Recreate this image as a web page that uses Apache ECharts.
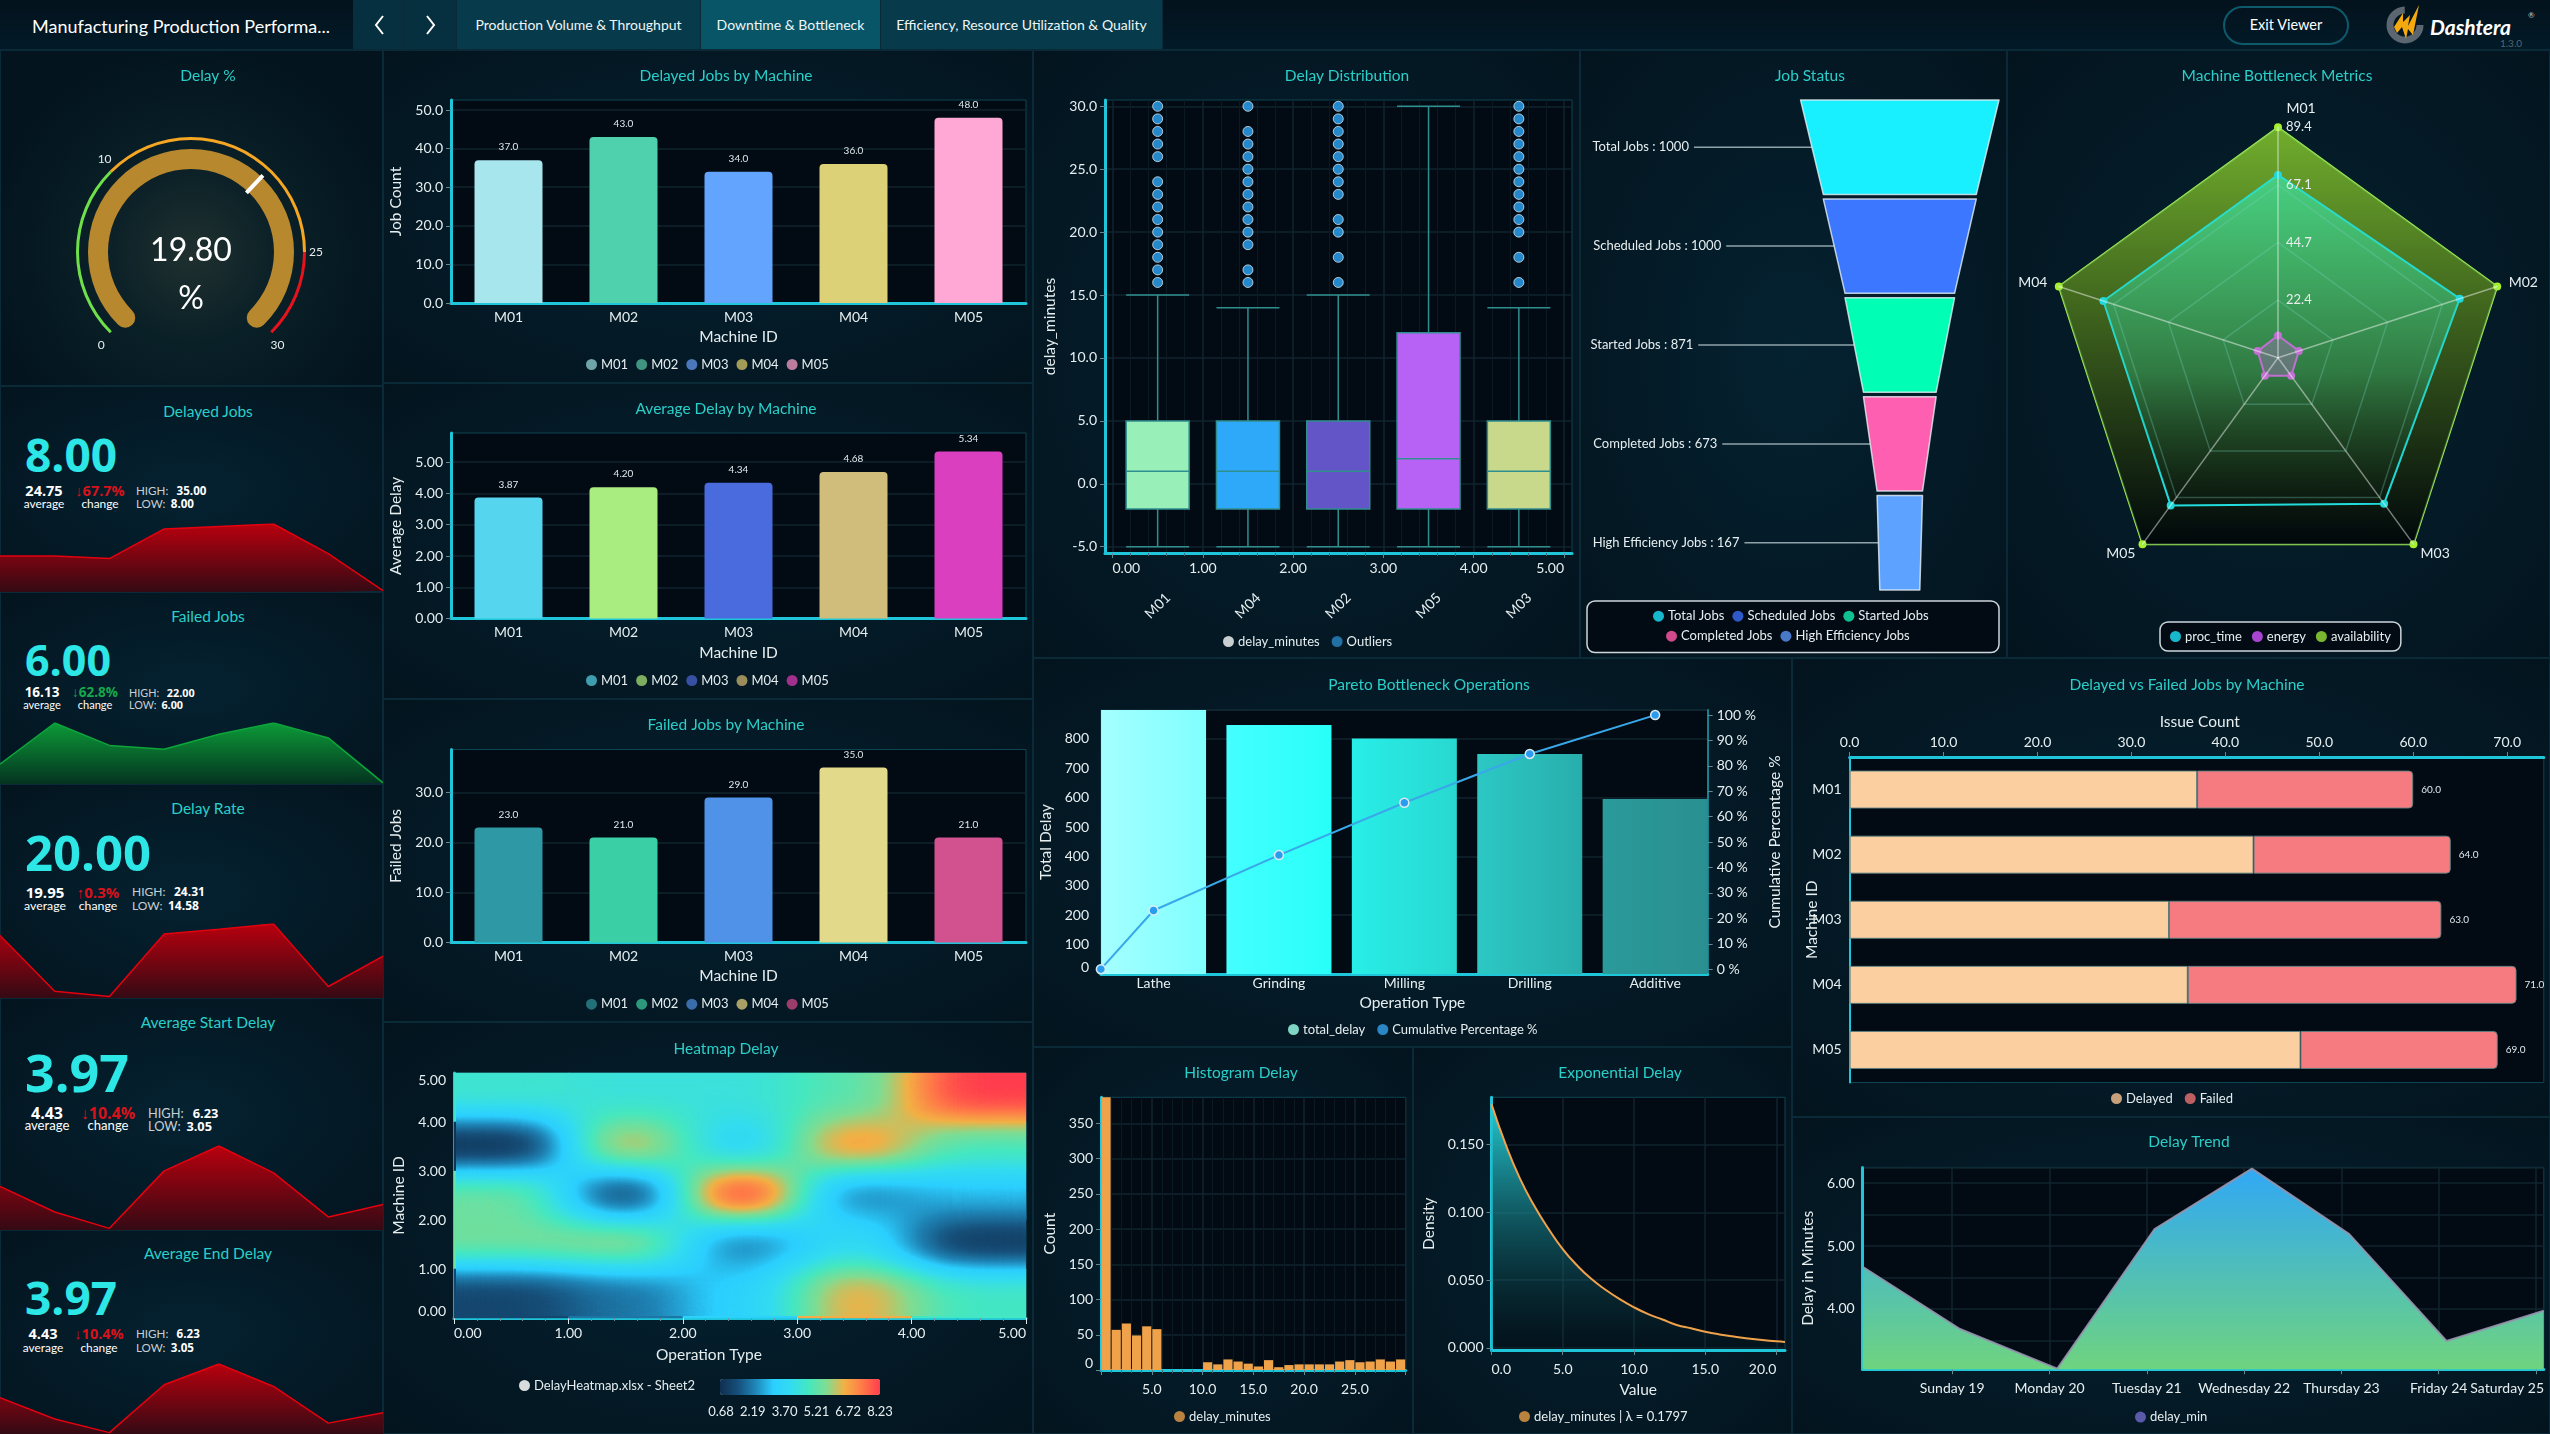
<!DOCTYPE html>
<html>
<head>
<meta charset="utf-8">
<title>Manufacturing Production Performance</title>
<script src="https://cdn.jsdelivr.net/npm/echarts@6/dist/echarts.min.js"></script>
<style>
  html, body { margin: 0; padding: 0; background: #03131d; }
  #page { position: relative; width: 2550px; height: 1434px; overflow: hidden; font-family: Lato, sans-serif; color: #fff; }
  .panel { position: absolute; box-sizing: border-box; border: 1px solid #0a2a38;
    background: radial-gradient(ellipse at center, #052231 0%, #03141e 100%); }
  .chart { position: absolute; }
  .t { position: absolute; white-space: nowrap; line-height: 1; }
  #head { position: absolute; left: 0; top: 0; width: 2550px; height: 50px; background: linear-gradient(#03121c, #021a28); border-bottom: 1px solid #0a2a38; box-sizing: border-box; }
  .tab { position: absolute; top: 0; height: 49px; background: #073a4a; border-right: 1px solid #0a2a38; box-sizing: border-box;
    display: flex; align-items: center; justify-content: center; font-size: 14px; color: #eef6f8; }
</style>
</head>
<body>
<div id="page">
  <div id="head"></div>
</div>
<svg width="0" height="0" style="position:absolute">
  <filter id="heatSmooth" x="-20%" y="-20%" width="140%" height="140%" color-interpolation-filters="sRGB">
    <feGaussianBlur stdDeviation="33 15"/>
    <feComponentTransfer id="heatTable"></feComponentTransfer>
  </filter>
</svg>
<script>
const FONT = 'Lato, sans-serif';
const TXT = '#e6eef0';
const TITLE = '#2bcfc9';
const CYAN = '#1fc6da';

// ---- data ----
const machines = ['M01', 'M02', 'M03', 'M04', 'M05'];
const delayedJobs = [37, 43, 34, 36, 48];
const avgDelay = [3.87, 4.20, 4.34, 4.68, 5.34];
const failedJobs = [23, 21, 29, 35, 21];

const gaugeValue = 19.8;

const kpiTitles = ['Delayed Jobs', 'Failed Jobs', 'Delay Rate', 'Average Start Delay', 'Average End Delay'];
const kpiValues = ['8.00', '6.00', '20.00', '3.97', '3.97'];
const kpiAverages = ['24.75', '16.13', '19.95', '4.43', '4.43'];
const kpiChanges = ['↓67.7%', '↓62.8%', '↑0.3%', '↓10.4%', '↓10.4%'];
const kpiHighs = ['35.00', '22.00', '24.31', '6.23', '6.23'];
const kpiLows = ['8.00', '6.00', '14.58', '3.05', '3.05'];
const sparkDelayed = [22, 22, 21, 33, 34, 35, 23, 8];
const sparkFailed = [11, 22, 16, 15, 19, 22, 18, 6];
const sparkRate = [22.78, 15.30, 14.58, 22.96, 23.60, 24.31, 15.93, 20.00];
const sparkStart = [4.67, 3.68, 3.05, 5.27, 6.23, 5.19, 3.49, 3.97];
const sparkEnd = [4.67, 3.68, 3.05, 5.27, 6.23, 5.19, 3.49, 3.97];

const boxMachines = ['M01', 'M04', 'M02', 'M05', 'M03'];
const boxStats = [
  [-5, -2, 1, 5, 15],
  [-5, -2, 1, 5, 14],
  [-5, -2, 1, 5, 15],
  [-5, -2, 2, 12, 30],
  [-5, -2, 1, 5, 14],
];
const boxOutliers = [
  [16, 17, 18, 19, 20, 21, 22, 23, 24, 26, 27, 28, 29, 30],
  [16, 17, 19, 20, 21, 22, 23, 24, 25, 26, 27, 28, 30],
  [16, 18, 20, 21, 23, 24, 25, 26, 27, 28, 29, 30],
  [],
  [16, 18, 20, 21, 22, 23, 24, 25, 26, 27, 28, 29, 30],
];

const jobStages = ['Total Jobs', 'Scheduled Jobs', 'Started Jobs', 'Completed Jobs', 'High Efficiency Jobs'];
const jobCounts = [1000, 1000, 871, 673, 167];
// the funnel in the picture is not to scale with its counts, these are its drawn proportions
const funnelShape = [198.4, 153, 109.5, 72.7, 45.4];

const radarMetrics = ['proc_time', 'energy', 'availability'];
// radar indicators run counter-clockwise from the top
const radarAxes = ['M01', 'M04', 'M05', 'M03', 'M02'];
const radarMax = 89.4;
const procTime = [70.9, 71.2, 70.8, 70.0, 74.1];
const energy = [8.6, 8.3, 8.6, 8.7, 8.5];
const availability = [89.4, 89.4, 89.4, 89.4, 89.4];

const paretoOps = ['Lathe', 'Grinding', 'Milling', 'Drilling', 'Additive'];
const paretoDelay = [898, 847, 801, 748, 595];
const paretoLineX = [0.08, 0.5, 1.5, 2.5, 3.5, 4.5];
const paretoCum = [0, 23.1, 44.9, 65.5, 84.7, 100];

const histCounts = [387, 57, 66, 49, 62, 58, 0, 0, 0, 0, 11, 8, 15, 12, 9, 5, 14, 4, 7, 8, 8, 8, 8, 12, 14, 11, 12, 15, 12, 15];

const expX = [0, 1, 2, 3, 4, 5, 6, 7, 8, 9, 10, 11, 12, 13, 14, 15, 16, 17, 18, 19, 20, 20.6];
const expDensity = [0.180, 0.150, 0.125, 0.105, 0.088, 0.073, 0.061, 0.051, 0.043, 0.036, 0.030, 0.025, 0.021, 0.017, 0.0145, 0.012, 0.010, 0.0084, 0.0070, 0.0059, 0.0049, 0.0044];

const trendDays = [18.08, 19.08, 20.08, 21.08, 22.08, 23.08, 24.08, 25.08];
const trendDelay = [4.67, 3.68, 3.05, 5.27, 6.23, 5.19, 3.49, 3.97];
const trendTickDays = [19, 20, 21, 22, 23, 24, 25];
const trendTickLabels = ['Sunday 19', 'Monday 20', 'Tuesday 21', 'Wednesday 22', 'Thursday 23', 'Friday 24', 'Saturday 25'];

const heatOps = ['0', '1', '2', '3', '4'];
const heatMachines = ['0', '1', '2', '3', '4'];
// rows from the top of the picture down
const heatRows = [
  [4.6, 4.4, 4.4, 5.2, 8.23],
  [0.8, 6.4, 3.6, 7.0, 5.0],
  [5.4, 1.3, 8.23, 2.4, 3.0],
  [5.5, 5.8, 2.3, 3.9, 1.0],
  [1.3, 2.1, 3.4, 6.6, 4.8],
];
const heatScaleTicks = ['0.68', '2.19', '3.70', '5.21', '6.72', '8.23'];
const heatColors = ['#0f2f50', '#164f7a', '#1f86b8', '#2bcfff', '#33dcf0', '#45e8c0', '#80dc90', '#f3b044', '#ff7a48', '#ff3d4d'];

// ---- page helpers ----
const page = document.getElementById('page');

function addPanel(box, bg) {
  const el = document.createElement('div');
  el.className = 'panel';
  el.style.cssText = `left:${box.x}px;top:${box.y}px;width:${box.w}px;height:${box.h}px;` + (bg ? `background:${bg};` : '');
  page.appendChild(el);
}

function put(text, x, y, css, anchor) {
  const el = document.createElement('div');
  el.className = 't';
  el.textContent = text;
  const tx = anchor === 'left' ? '0' : anchor === 'right' ? '-100%' : '-50%';
  el.style.cssText = `left:${x}px;top:${y}px;transform:translate(${tx},-50%);` + css;
  page.appendChild(el);
  return el;
}

function chart(box, option) {
  const el = document.createElement('div');
  el.className = 'chart';
  el.style.cssText = `left:${box.x}px;top:${box.y}px;width:${box.w}px;height:${box.h}px;`;
  page.appendChild(el);
  const c = echarts.init(el);
  c.setOption(Object.assign({ animation: false, textStyle: { fontFamily: FONT } }, option));
  return c;
}

const rect = (box, l, t, r, b, extra) => Object.assign({
  left: l - box.x, top: t - box.y, width: r - l, height: b - t, outerBoundsMode: 'none',
  show: true, backgroundColor: '#020b14', borderColor: '#0e4553', borderWidth: 1,
}, extra);

const titleAt = (box, text, cx, y) => ({
  text, left: cx - box.x, top: y - box.y + 1, padding: 0, textAlign: 'center', textVerticalAlign: 'middle',
  textStyle: { color: TITLE, fontSize: 15.5, fontWeight: 'normal', fontFamily: FONT },
});

const legendAt = (box, names, icons, left, y, extra) => Object.assign({
  left: left - box.x, top: y - box.y - 7, padding: 0, icon: 'circle', itemWidth: 11, itemHeight: 11, itemGap: 8,
  selectedMode: false, textStyle: { color: TXT, fontSize: 13, padding: [0, 0, 0, -1] },
  data: names.map((name, i) => ({ name, itemStyle: { color: icons[i], borderWidth: 0 } })),
}, extra);

const lineCyan = { show: true, onZero: false, lineStyle: { color: CYAN, width: 3 } };
const gridLine = { show: true, lineStyle: { color: '#12252e', width: 1.5 } };
const faintLine = { show: true, lineStyle: { color: '#0b1a22', width: 1 } };
const tickMark = { show: true, length: 5, lineStyle: { color: '#5f8a94' } };
const labelStyle = { color: TXT, fontSize: 14, margin: 8 };
const nameStyle = { color: TXT, fontSize: 15.5 };

// value axis with explicit ticks, for scales whose ends do not fall on a tick
function tickedAxis(min, max, ticks, digits, extra) {
  return Object.assign({
    type: 'value', min, max,
    axisLine: lineCyan,
    axisTick: Object.assign({}, tickMark, { customValues: ticks }),
    axisLabel: Object.assign({}, labelStyle, { customValues: ticks, formatter: v => v.toFixed(digits) }),
    splitLine: gridLine,
    nameLocation: 'middle', nameTextStyle: nameStyle,
  }, extra);
}

// ---- header ----
put('Manufacturing Production Performa...', 32, 26, 'font-size:18px;color:#fff;', 'left');
const tabs = [
  { x: 353, w: 52, svg: '<svg width="12" height="22"><polyline points="10,2 3,11 10,20" fill="none" stroke="#fff" stroke-width="2"/></svg>', bg: '#06303f' },
  { x: 405, w: 52, svg: '<svg width="12" height="22"><polyline points="2,2 9,11 2,20" fill="none" stroke="#fff" stroke-width="2"/></svg>', bg: '#06303f' },
  { x: 457, w: 244, text: 'Production Volume & Throughput' },
  { x: 701, w: 180, text: 'Downtime & Bottleneck', bg: '#075566' },
  { x: 881, w: 282, text: 'Efficiency, Resource Utilization & Quality' },
];
tabs.forEach(t => {
  const el = document.createElement('div');
  el.className = 'tab';
  if (t.svg) el.innerHTML = t.svg;
  else el.textContent = t.text;
  el.style.cssText = `left:${t.x}px;width:${t.w}px;` + (t.bg ? `background:${t.bg};` : '');
  page.appendChild(el);
});
const exitBtn = put('Exit Viewer', 2286, 25, 'font-size:14.5px;color:#fff;');
const exitBox = document.createElement('div');
exitBox.style.cssText = 'position:absolute;left:2223px;top:6px;width:126px;height:39px;box-sizing:border-box;border:2px solid #0e5a6a;border-radius:20px;';
page.appendChild(exitBox);
const logo = document.createElementNS('http://www.w3.org/2000/svg', 'svg');
logo.setAttribute('width', '44');
logo.setAttribute('height', '44');
logo.style.cssText = 'position:absolute;left:2385px;top:3px;';
logo.innerHTML = '<circle cx="20" cy="22" r="15" fill="none" stroke="#5b6670" stroke-width="7" stroke-dasharray="70 30"/>' +
  '<polygon points="9,24 18,10 18,19 25,12 23,23 34,2 28,32 23,26 21,36 17,24 12,30" fill="#f5a90f"/>';
page.appendChild(logo);
put('Dashtera', 2430, 26, 'font-size:21px;font-weight:700;font-style:italic;color:#fff;', 'left');
put('®', 2528, 15, 'font-size:8px;color:#ccc;', 'left');
put('1.3.0', 2511, 43, 'font-size:10px;color:#54666e;');

// ---- gauge ----
const gaugeBox = { x: 0, y: 50, w: 383, h: 336 };
addPanel(gaugeBox, 'radial-gradient(circle at 191px 202px, #20302f 0%, #0a2027 32%, #03141e 75%)');
chart(gaugeBox, {
  title: titleAt(gaugeBox, 'Delay %', 208, 75),
  series: [
    {
      type: 'gauge', center: [191, 202], radius: 115, startAngle: 225, endAngle: -45, min: 0, max: 30, splitNumber: 6,
      axisLine: { lineStyle: { width: 3, color: [[10 / 30, '#6fe04a'], [25 / 30, '#f5a623'], [1, '#e8121c']] } },
      axisTick: { show: false }, splitLine: { show: false }, pointer: { show: false },
      axisLabel: { distance: -37, color: TXT, fontSize: 12, formatter: v => ([0, 10, 25, 30].includes(v) ? String(v) : '') },
      title: { show: false }, detail: { show: false },
      data: [{ value: gaugeValue }],
    },
    {
      type: 'gauge', center: [191, 202], radius: 103, startAngle: 225, endAngle: -45, min: 0, max: 30,
      axisLine: { roundCap: true, lineStyle: { width: 20, color: [[1, '#b8882e']] } },
      axisTick: { show: false }, splitLine: { show: false }, axisLabel: { show: false },
      pointer: { show: true, icon: 'rect', length: 24, width: 4, offsetCenter: [0, -81], itemStyle: { color: '#fff' } },
      title: { show: false },
      detail: {
        formatter: v => v.toFixed(2) + '\n%', color: '#fff', fontSize: 32, lineHeight: 48,
        fontWeight: 'normal', offsetCenter: [0, 23], fontFamily: FONT,
      },
      data: [{ value: gaugeValue }],
    },
  ],
});

// ---- kpi cards ----
const kpiBoxes = [
  { x: 0, y: 386, w: 383, h: 206 },
  { x: 0, y: 592, w: 383, h: 192 },
  { x: 0, y: 784, w: 383, h: 214 },
  { x: 0, y: 998, w: 383, h: 232 },
  { x: 0, y: 1230, w: 383, h: 204 },
];
const kpiLayout = [
  { titleY: 412, numY: 454, num: 46, sub: 14.5, avgX: 44, chgX: 100, hiX: 136, r1: 491, r2: 504, sparkTop: 524 },
  { titleY: 617, numY: 659, num: 43, sub: 13.5, avgX: 42, chgX: 95, hiX: 129, r1: 692.5, r2: 704.5, sparkTop: 723 },
  { titleY: 809, numY: 852, num: 49, sub: 15, avgX: 45, chgX: 98, hiX: 132, r1: 892, r2: 905.5, sparkTop: 924 },
  { titleY: 1023, numY: 1072, num: 52, sub: 16, avgX: 47, chgX: 108, hiX: 148, r1: 1112.5, r2: 1126, sparkTop: 1146 },
  { titleY: 1254, numY: 1297, num: 46, sub: 14.5, avgX: 43, chgX: 99, hiX: 136, r1: 1334, r2: 1348, sparkTop: 1364 },
];
const kpiChangeColors = ['#d8121a', '#16a84a', '#d8121a', '#d8121a', '#d8121a'];
const sparkSeries = [sparkDelayed, sparkFailed, sparkRate, sparkStart, sparkEnd];
const sparkLows = [8, 6, 14.58, 3.05, 3.05];
const sparkHighs = [35, 22, 24.31, 6.23, 6.23];

kpiBoxes.forEach((box, i) => {
  const lay = kpiLayout[i];
  addPanel(box);
  const green = i === 1;
  const sparkBox = { x: box.x, y: lay.sparkTop - 3, w: box.w, h: box.y + box.h - lay.sparkTop + 3 };
  chart(sparkBox, {
    grid: { left: 0, right: 0, top: 3, bottom: 0, outerBoundsMode: 'none' },
    xAxis: { type: 'category', show: false, boundaryGap: false, data: sparkSeries[i].map((_, k) => k) },
    yAxis: { type: 'value', show: false, min: sparkLows[i] - (sparkHighs[i] - sparkLows[i]) * 0.02, max: sparkHighs[i] },
    series: [{
      type: 'line', data: sparkSeries[i], symbol: 'none',
      lineStyle: { color: green ? '#0da53b' : '#e4000f', width: 1.5 },
      areaStyle: {
        opacity: 1,
        color: new echarts.graphic.LinearGradient(0, 0, 0, 1, [
          { offset: 0, color: green ? '#0c9a38' : '#b8000e' },
          { offset: 1, color: green ? '#043320' : '#340a14' },
        ]),
      },
    }],
  });
  const s = lay.sub;
  put(kpiTitles[i], 208, lay.titleY, `font-size:15.5px;color:${TITLE};`);
  put(kpiValues[i], 25, lay.numY, `font-size:${lay.num}px;font-weight:700;color:#2de6e6;font-family:"Open Sans";`, 'left');
  put(kpiAverages[i], lay.avgX, lay.r1, `font-size:${s}px;font-weight:700;color:#fff;font-family:"Open Sans";`);
  put('average', lay.avgX, lay.r2, `font-size:${s * 0.82}px;color:#fff;`);
  put(kpiChanges[i], lay.chgX, lay.r1, `font-size:${s}px;font-weight:700;color:${kpiChangeColors[i]};font-family:"Open Sans";`);
  put('change', lay.chgX, lay.r2, `font-size:${s * 0.82}px;color:#fff;`);
  put('HIGH:', lay.hiX, lay.r1, `font-size:${s * 0.8}px;color:#c8d0d4;`, 'left');
  put(kpiHighs[i], lay.hiX + s * 2.8, lay.r1, `font-size:${s * 0.8}px;font-weight:700;color:#fff;font-family:"Open Sans";`, 'left');
  put('LOW:', lay.hiX, lay.r2, `font-size:${s * 0.8}px;color:#c8d0d4;`, 'left');
  put(kpiLows[i], lay.hiX + s * 2.4, lay.r2, `font-size:${s * 0.8}px;font-weight:700;color:#fff;font-family:"Open Sans";`, 'left');
});

// ---- machine bar panels ----
function machineBars(cfg) {
  const { box, title, values, colors, icons, maxVal, ticks, digits, yName, g, legendLeft, legendY } = cfg;
  addPanel(box);
  chart(box, {
    title: titleAt(box, title, 726, cfg.titleY),
    legend: legendAt(box, machines, icons, legendLeft, legendY),
    grid: rect(box, g[0], g[1], g[2], g[3]),
    xAxis: {
      type: 'category', data: machines, axisLine: lineCyan, axisTick: { show: false },
      axisLabel: Object.assign({}, labelStyle, { margin: 7 }),
      name: 'Machine ID', nameLocation: 'middle', nameGap: 26, nameTextStyle: nameStyle,
    },
    yAxis: tickedAxis(0, maxVal, ticks, digits, { name: yName, nameGap: 41 }),
    series: machines.map((m, i) => ({
      type: 'bar', name: m, stack: 'm', barWidth: 68,
      data: values.map((v, j) => (j === i ? v : '-')),
      itemStyle: { color: colors[i], borderRadius: [4, 4, 0, 0] },
      label: {
        show: true, position: 'top', distance: 8, fontSize: 10, color: '#dfe8ea',
        formatter: p => p.value.toFixed(digits === 2 ? 2 : 1),
      },
    })),
  });
}

machineBars({
  box: { x: 383, y: 50, w: 650, h: 333 }, title: 'Delayed Jobs by Machine', titleY: 75,
  values: delayedJobs, colors: ['#a8e6ed', '#4fd1ae', '#63a4ff', '#dcd177', '#ffa8d5'],
  icons: ['#6fa5aa', '#3f957f', '#4a78bb', '#a39b58', '#bb7c9d'],
  maxVal: 52.6, ticks: [0, 10, 20, 30, 40, 50], digits: 1, yName: 'Job Count',
  g: [451, 100, 1026, 303], legendLeft: 586, legendY: 365,
});
machineBars({
  box: { x: 383, y: 383, w: 650, h: 316 }, title: 'Average Delay by Machine', titleY: 408,
  values: avgDelay, colors: ['#55d6ee', '#a9ec80', '#4a6bdd', '#d1bd7b', '#d93fbf'],
  icons: ['#3f9db0', '#7dae5f', '#3750a3', '#9b8c5b', '#a02f8d'],
  maxVal: 5.93, ticks: [0, 1, 2, 3, 4, 5], digits: 2, yName: 'Average Delay',
  g: [451, 433, 1026, 618.6], legendLeft: 586, legendY: 681,
});
machineBars({
  box: { x: 383, y: 699, w: 650, h: 323 }, title: 'Failed Jobs by Machine', titleY: 724,
  values: failedJobs, colors: ['#2e98a4', '#3bcfa6', '#4f92e8', '#e3d98a', '#d2528f'],
  icons: ['#227179', '#2c997b', '#3a6cac', '#a8a066', '#9b3d6a'],
  maxVal: 38.6, ticks: [0, 10, 20, 30], digits: 1, yName: 'Failed Jobs',
  g: [451, 749.5, 1026, 942.4], legendLeft: 586, legendY: 1004.7,
});

// ---- heatmap ----
const heatBox = { x: 383, y: 1022, w: 650, h: 412 };
addPanel(heatBox);
const heatData = heatRows.flatMap((row, r) => row.map((v, c) => [c, heatRows.length - 1 - r, v]));
const heatMin = Number(heatScaleTicks[0]);
const heatMax = Number(heatScaleTicks[heatScaleTicks.length - 1]);
chart(heatBox, {
  title: titleAt(heatBox, 'Heatmap Delay', 726, 1048),
  legend: legendAt(heatBox, ['DelayHeatmap.xlsx - Sheet2'], ['#d8dcdc'], 519, 1386),
  grid: rect(heatBox, 454, 1073, 1026, 1318),
  visualMap: {
    type: 'continuous', min: heatMin, max: heatMax, orient: 'horizontal', seriesIndex: 0, calculable: false,
    left: 720 - heatBox.x, top: 1379 - heatBox.y, itemWidth: 16, itemHeight: 160, padding: 0, text: null,
    inRange: { color: heatColors }, textStyle: { color: 'transparent' },
  },
  xAxis: [
    { type: 'category', show: false, position: 'top', data: heatOps },
    {
      type: 'value', position: 'bottom', min: 0, max: 5, interval: 1, axisLine: lineCyan, splitLine: { show: false },
      axisTick: Object.assign({}, tickMark, { length: 6, lineStyle: { color: '#dfe8ea' } }),
      minorTick: { show: true, splitNumber: 5, length: 3, lineStyle: { color: '#6f8f98' } },
      axisLabel: Object.assign({}, labelStyle, { formatter: v => v.toFixed(2), alignMinLabel: 'left', alignMaxLabel: 'right' }),
      name: 'Operation Type', nameLocation: 'middle', nameGap: 29,
      nameTextStyle: Object.assign({ padding: [0, 62, 0, 0] }, nameStyle),
    },
  ],
  yAxis: [
    { type: 'category', show: false, position: 'right', data: heatMachines },
    {
      type: 'value', position: 'left', min: 0, max: 5, interval: 1, axisLine: lineCyan, axisTick: { show: false }, splitLine: { show: false },
      axisLabel: Object.assign({}, labelStyle, { formatter: v => v.toFixed(2), verticalAlignMinLabel: 'bottom', verticalAlignMaxLabel: 'top' }),
      name: 'Machine ID', nameLocation: 'middle', nameGap: 42, nameTextStyle: nameStyle,
    },
  ],
  series: [{ type: 'heatmap', name: 'DelayHeatmap.xlsx - Sheet2', xAxisIndex: 0, yAxisIndex: 0, data: heatData }],
  graphic: heatScaleTicks.map((t, i) => ({
    type: 'text', x: 721 + i * 31.8 - heatBox.x, y: 1412 - heatBox.y,
    style: { text: t, fill: TXT, font: '13px ' + FONT, align: 'center', verticalAlign: 'middle' },
  })),
});

// same cells once more, as grey levels: blurred and run through the colour ramp by the svg filter
const channels = { feFuncR: 1, feFuncG: 3, feFuncB: 5 };
const heatTable = document.getElementById('heatTable');
Object.keys(channels).forEach(tag => {
  const fn = document.createElementNS('http://www.w3.org/2000/svg', tag);
  fn.setAttribute('type', 'table');
  fn.setAttribute('tableValues', heatColors.map(c => (parseInt(c.substr(channels[tag], 2), 16) / 255).toFixed(3)).join(' '));
  heatTable.appendChild(fn);
});
const alphaFn = document.createElementNS('http://www.w3.org/2000/svg', 'feFuncA');
alphaFn.setAttribute('type', 'linear');
alphaFn.setAttribute('slope', '100');
heatTable.appendChild(alphaFn);
const heatClip = document.createElement('div');
heatClip.style.cssText = 'position:absolute;left:456px;top:1073px;width:570px;height:243px;overflow:hidden;';
page.appendChild(heatClip);
const heatInner = document.createElement('div');
heatInner.style.cssText = 'position:absolute;left:0;top:0;width:570px;height:243px;filter:url(#heatSmooth);';
heatClip.appendChild(heatInner);
const heatSmooth = echarts.init(heatInner);
heatSmooth.setOption({
  animation: false,
  grid: { left: 0, right: 0, top: 0, bottom: 0, outerBoundsMode: 'none' },
  xAxis: { type: 'category', show: false, data: heatOps },
  yAxis: { type: 'category', show: false, data: heatMachines },
  visualMap: { show: false, min: heatMin, max: heatMax, inRange: { color: ['#000000', '#ffffff'] } },
  series: [{ type: 'heatmap', data: heatData }],
});

// ---- box plot ----
const boxBox = { x: 1033, y: 50, w: 547, h: 608 };
addPanel(boxBox);
const boxColors = ['#98f0b8', '#2ea8f8', '#6355c8', '#b862f5', '#c8d98c'];
const delayTicks = [-5, 0, 5, 10, 15, 20, 25, 30];
const boxInner = { left: 1112.5 - boxBox.x, top: 100 - boxBox.y, width: 451.5, height: 453, outerBoundsMode: 'none' };
chart(boxBox, {
  title: titleAt(boxBox, 'Delay Distribution', 1347, 75),
  legend: legendAt(boxBox, ['delay_minutes', 'Outliers'], ['#c9ced1', '#2a86c4'], 1223, 642, { itemGap: 12 }),
  grid: [rect(boxBox, 1105, 100, 1572, 553), Object.assign({}, boxInner)],
  xAxis: [
    { type: 'value', gridIndex: 0, position: 'bottom', min: 0, max: 1, axisLine: lineCyan, axisTick: { show: false }, axisLabel: { show: false }, splitLine: { show: false } },
    {
      type: 'category', gridIndex: 1, position: 'bottom', data: boxMachines, axisLine: { show: false },
      axisTick: Object.assign({}, tickMark, { alignWithLabel: true }),
      axisLabel: Object.assign({}, labelStyle, { rotate: 45, margin: 53, align: 'center', verticalAlign: 'middle' }),
    },
    {
      type: 'value', gridIndex: 1, position: 'bottom', min: 0, max: 5, interval: 1, axisLine: { show: false },
      axisTick: tickMark, minorTick: { show: true, splitNumber: 5, length: 3, lineStyle: { color: '#3f6a74' } },
      axisLabel: Object.assign({}, labelStyle, { formatter: v => v.toFixed(2), alignMinLabel: 'left', alignMaxLabel: 'right' }),
      splitLine: gridLine, minorSplitLine: faintLine,
    },
  ],
  yAxis: [
    tickedAxis(-5.5, 30.5, delayTicks, 1, { gridIndex: 0, position: 'left', name: 'delay_minutes', nameGap: 42 }),
    { type: 'value', gridIndex: 1, min: -5.5, max: 30.5, show: false, splitLine: { show: false } },
  ],
  series: [
    {
      type: 'boxplot', name: 'delay_minutes', xAxisIndex: 1, yAxisIndex: 1, boxWidth: [63, 63],
      data: boxStats.map((value, i) => ({ value, itemStyle: { color: boxColors[i], borderColor: '#2f8f8f', borderWidth: 1.5 } })),
    },
    {
      type: 'scatter', name: 'Outliers', xAxisIndex: 1, yAxisIndex: 1, symbolSize: 10,
      itemStyle: { color: '#2ea8f8', borderColor: '#d6e6ee', borderWidth: 1 },
      data: boxOutliers.flatMap((list, i) => list.map(v => [i, v])),
    },
  ],
});

// ---- job status funnel ----
const funnelBox = { x: 1580, y: 50, w: 427, h: 608 };
addPanel(funnelBox);
const funnelColors = ['#18f0ff', '#3b78ff', '#00ffb4', '#ff5fb0', '#5ea2ff'];
const funnelIcons = ['#18b8cc', '#2f58c8', '#10c090', '#d04a8c', '#4a78c8'];
const funnelLineLengths = [118, 108, 156, 148, 134];
chart(funnelBox, {
  title: titleAt(funnelBox, 'Job Status', 1810, 75),
  legend: [
    legendAt(funnelBox, jobStages.slice(0, 3), funnelIcons.slice(0, 3), 1653, 616.7),
    legendAt(funnelBox, jobStages.slice(3), funnelIcons.slice(3), 1666, 636.7),
  ],
  graphic: [{
    type: 'rect', x: 1587 - funnelBox.x, y: 601 - funnelBox.y, shape: { width: 412, height: 51.6, r: 8 },
    style: { fill: '#020b14', stroke: '#cdd6da', lineWidth: 1.5 },
  }],
  series: [{
    type: 'funnel', left: 1800.6 - funnelBox.x, top: 100 - funnelBox.y, width: 198.4, height: 490,
    sort: 'none', gap: 4.5, min: 40, max: 198.4, minSize: 40, maxSize: 198.4,
    label: {
      position: 'left', color: TXT, fontSize: 13,
      formatter: p => `${p.name} : ${jobCounts[p.dataIndex]}`,
    },
    labelLine: { show: true, lineStyle: { color: '#8fa3aa', width: 1.5 } },
    itemStyle: { borderColor: 'rgba(230,240,245,0.8)', borderWidth: 1.5 },
    data: jobStages.map((name, i) => ({
      name, value: funnelShape[i],
      itemStyle: { color: funnelColors[i] },
      labelLine: { length: funnelLineLengths[i] },
    })),
  }],
});

// ---- radar ----
const radarBox = { x: 2007, y: 50, w: 543, h: 608 };
addPanel(radarBox);
chart(radarBox, {
  title: titleAt(radarBox, 'Machine Bottleneck Metrics', 2277, 75),
  legend: legendAt(radarBox, radarMetrics, ['#18b8cc', '#a845d0', '#7ab830'], 2160, 637, {
    padding: [8, 10, 8, 10], top: 622 - radarBox.y, borderColor: '#cdd6da', borderWidth: 1.5, borderRadius: 8,
    backgroundColor: '#020b14', itemGap: 10,
  }),
  radar: {
    center: [2278 - radarBox.x, 357.7 - radarBox.y], radius: 230.5, startAngle: 90, splitNumber: 4, shape: 'polygon', z: 3,
    indicator: radarAxes.map((name, i) => ({
      name, min: 0, max: radarMax,
      axisLabel: i === 0 ? {
        show: true, color: TXT, fontSize: 13, margin: -8, align: 'left',
        formatter: v => (v ? (Math.round(v * 10 + 1e-6) / 10).toFixed(1) : ''),
      } : undefined,
    })),
    axisName: {
      color: TXT, fontSize: 14,
      rich: { top: { color: TXT, fontSize: 14, padding: [0, 0, 0, 46] } },
      formatter: n => (n === radarAxes[0] ? `{top|${n}}` : n),
    },
    nameGap: 12,
    axisLine: { lineStyle: { color: 'rgba(255,255,255,0.45)', width: 1.5 } },
    splitLine: { lineStyle: { color: 'rgba(120,210,190,0.3)', width: 1.5 } },
    splitArea: { show: false },
    axisLabel: { show: false },
  },
  series: [{
    type: 'radar', symbol: 'circle', symbolSize: 8, z: 1,
    data: [
      {
        name: 'availability', value: availability,
        itemStyle: { color: '#a8f02a' }, lineStyle: { color: '#a8f02a', width: 2 },
        areaStyle: { opacity: 1, color: new echarts.graphic.LinearGradient(0, 0, 0, 1, [
          { offset: 0, color: 'rgba(125,190,45,0.9)' }, { offset: 1, color: 'rgba(0,6,8,0.9)' },
        ]) },
      },
      {
        name: 'proc_time', value: procTime,
        itemStyle: { color: '#20d8d8' }, lineStyle: { color: '#22dcdc', width: 2 },
        areaStyle: { opacity: 1, color: new echarts.graphic.LinearGradient(0, 0, 0, 1, [
          { offset: 0, color: 'rgba(60,225,160,0.75)' }, { offset: 0.6, color: 'rgba(50,190,130,0.4)' }, { offset: 1, color: 'rgba(10,60,50,0)' },
        ]) },
      },
      {
        name: 'energy', value: energy,
        itemStyle: { color: '#c070d0' }, lineStyle: { color: '#c070d0', width: 2 },
        areaStyle: { color: 'rgba(190,110,210,0.35)', opacity: 1 },
      },
    ],
  }],
});

// ---- pareto ----
const paretoBox = { x: 1033, y: 658, w: 759, h: 389 };
addPanel(paretoBox);
const paretoGradients = [
  ['#a4ffff', '#80ffff'], ['#44ffff', '#28fff8'], ['#28eee8', '#28d8d0'], ['#2cc8c4', '#28aeac'], ['#2a9a9a', '#2a8f90'],
];
const delayAxisTicks = [0, 100, 200, 300, 400, 500, 600, 700, 800];
const pctTicks = [0, 10, 20, 30, 40, 50, 60, 70, 80, 90, 100];
const paretoBars = { left: 1090.85 - paretoBox.x, top: 710 - paretoBox.y, width: 627, height: 264, outerBoundsMode: 'none' };
chart(paretoBox, {
  title: titleAt(paretoBox, 'Pareto Bottleneck Operations', 1429, 684),
  legend: legendAt(paretoBox, ['total_delay', 'Cumulative Percentage %'], ['#7fd4c4', '#2a86c4'], 1288, 1030, { itemGap: 12 }),
  grid: [rect(paretoBox, 1101, 710, 1707.7, 974), Object.assign({}, paretoBars)],
  xAxis: [
    { type: 'value', gridIndex: 0, position: 'bottom', min: 0, max: 1, axisLine: lineCyan, axisTick: { show: false }, axisLabel: { show: false }, splitLine: { show: false } },
    {
      type: 'category', gridIndex: 1, position: 'bottom', data: paretoOps, axisLine: { show: false }, axisTick: { show: false },
      axisLabel: Object.assign({}, labelStyle, { margin: 2 }),
      name: 'Operation Type', nameLocation: 'middle', nameGap: 19,
      nameTextStyle: Object.assign({ padding: [0, 0, 0, 16] }, nameStyle),
    },
    { type: 'value', gridIndex: 1, position: 'top', min: 0, max: 5, show: false },
  ],
  yAxis: [
    tickedAxis(0, 898, delayAxisTicks, 0, {
      gridIndex: 0, position: 'left', name: 'Total Delay', nameGap: 39,
      axisLine: { show: false }, axisTick: { show: false },
      axisLabel: Object.assign({}, labelStyle, { customValues: delayAxisTicks, margin: 12, verticalAlignMinLabel: 'bottom', formatter: v => String(v) }),
    }),
    tickedAxis(-1.9, 102, pctTicks, 0, {
      gridIndex: 0, position: 'right', name: 'Cumulative Percentage %', nameGap: 55, splitLine: { show: false },
      axisLine: { show: true, onZero: false, lineStyle: { color: '#17808e', width: 2 } },
      axisLabel: Object.assign({}, labelStyle, { customValues: pctTicks, margin: 9, formatter: v => v + ' %' }),
    }),
    { type: 'value', gridIndex: 1, position: 'left', min: 0, max: 898, show: false, splitLine: { show: false } },
    { type: 'value', gridIndex: 1, position: 'right', min: -1.9, max: 102, show: false, splitLine: { show: false } },
  ],
  series: [
    {
      type: 'bar', name: 'total_delay', xAxisIndex: 1, yAxisIndex: 2, barWidth: 105,
      data: paretoDelay.map((value, i) => ({
        value,
        itemStyle: { color: new echarts.graphic.LinearGradient(0, 0, 1, 0, [
          { offset: 0, color: paretoGradients[i][0] }, { offset: 1, color: paretoGradients[i][1] },
        ]) },
      })),
    },
    {
      type: 'line', name: 'Cumulative Percentage %', xAxisIndex: 2, yAxisIndex: 3, clip: false,
      data: paretoLineX.map((x, i) => [x, paretoCum[i]]),
      symbol: 'circle', symbolSize: 9,
      lineStyle: { color: '#38a8e8', width: 2 },
      itemStyle: { color: '#2a9cf0', borderColor: '#dbeaf2', borderWidth: 1.5 },
    },
  ],
});

// ---- histogram ----
const histBox = { x: 1033, y: 1047, w: 380, h: 387 };
addPanel(histBox);
const countTicks = [0, 50, 100, 150, 200, 250, 300, 350];
chart(histBox, {
  title: titleAt(histBox, 'Histogram Delay', 1241, 1072),
  legend: legendAt(histBox, ['delay_minutes'], ['#b9823f'], 1174, 1417),
  grid: rect(histBox, 1101, 1097.3, 1405.7, 1370),
  xAxis: [
    { type: 'category', show: false, position: 'top', data: histCounts.map((_, i) => i) },
    {
      type: 'value', position: 'bottom', min: 0, max: 30, interval: 5, axisLine: lineCyan, axisTick: tickMark,
      minorTick: { show: true, splitNumber: 5, length: 3, lineStyle: { color: '#3f6a74' } },
      axisLabel: Object.assign({}, labelStyle, { margin: 12, showMinLabel: false, showMaxLabel: false, formatter: v => v.toFixed(1) }),
      splitLine: gridLine, minorSplitLine: faintLine,
    },
  ],
  yAxis: tickedAxis(0, 387, countTicks, 0, {
    name: 'Count', nameGap: 39,
    axisLabel: Object.assign({}, labelStyle, { customValues: countTicks, formatter: v => String(v), verticalAlignMinLabel: 'bottom' }),
  }),
  series: [{
    type: 'bar', name: 'delay_minutes', xAxisIndex: 0, barWidth: '90%', data: histCounts,
    itemStyle: { color: '#f0a24a' },
  }],
});

// ---- exponential ----
const expBox = { x: 1413, y: 1047, w: 379, h: 387 };
addPanel(expBox);
const densityTicks = [0, 0.05, 0.1, 0.15];
chart(expBox, {
  title: titleAt(expBox, 'Exponential Delay', 1620, 1072),
  legend: legendAt(expBox, ['delay_minutes | λ = 0.1797'], ['#b9823f'], 1519, 1417),
  grid: rect(expBox, 1491.5, 1097.3, 1785, 1350),
  xAxis: {
    type: 'value', min: 0, max: 20.6,
    axisLine: lineCyan,
    axisTick: Object.assign({}, tickMark, { customValues: [0, 5, 10, 15, 20] }),
    axisLabel: Object.assign({}, labelStyle, { customValues: [0, 5, 10, 15, 20], margin: 12, formatter: v => v.toFixed(1), alignMinLabel: 'left', alignMaxLabel: 'right' }),
    splitLine: gridLine, name: 'Value', nameLocation: 'middle', nameGap: 32, nameTextStyle: nameStyle,
  },
  yAxis: tickedAxis(-0.0015, 0.185, densityTicks, 3, { name: 'Density', nameGap: 47 }),
  series: [{
    type: 'line', name: 'delay_minutes | λ = 0.1797', smooth: true, symbol: 'none',
    data: expX.map((x, i) => [x, expDensity[i]]),
    lineStyle: { color: '#f0a24a', width: 2 },
    areaStyle: { opacity: 1, color: new echarts.graphic.LinearGradient(0, 0, 0, 1, [
      { offset: 0, color: '#25ccd4' }, { offset: 1, color: 'rgba(10,60,70,0.15)' },
    ]) },
  }],
});

// ---- delayed vs failed ----
const stackBox = { x: 1792, y: 658, w: 758, h: 459 };
addPanel(stackBox);
const issueTicks = [0, 10, 20, 30, 40, 50, 60, 70];
const barEdge = 'rgba(90,130,130,0.9)';
chart(stackBox, {
  title: titleAt(stackBox, 'Delayed vs Failed Jobs by Machine', 2187, 683.5),
  legend: legendAt(stackBox, ['Delayed', 'Failed'], ['#c9a07c', '#bd5f63'], 2111, 1099, { itemGap: 12 }),
  grid: rect(stackBox, 1849.6, 757, 2543.8, 1082.5),
  xAxis: tickedAxis(0, 73.9, issueTicks, 1, {
    position: 'top', splitLine: { show: false }, name: 'Issue Count', nameGap: 27, nameTextStyle: Object.assign({ padding: [0, 0, 0, 6] }, nameStyle),
  }),
  yAxis: {
    type: 'category', inverse: true, data: machines, axisTick: { show: false },
    axisLine: { show: true, onZero: false, lineStyle: { color: CYAN, width: 2 } },
    axisLabel: labelStyle, name: 'Machine ID', nameLocation: 'middle', nameGap: 30, nameMoveOverlap: false, nameTextStyle: nameStyle,
  },
  series: [
    {
      type: 'bar', name: 'Delayed', stack: 'j', barWidth: 38, data: delayedJobs,
      itemStyle: { color: '#fbcfa0', borderColor: barEdge, borderWidth: 1 },
    },
    {
      type: 'bar', name: 'Failed', stack: 'j', barWidth: 38, data: failedJobs,
      itemStyle: { color: '#f57b80', borderColor: barEdge, borderWidth: 1, borderRadius: [0, 4, 4, 0] },
      label: {
        show: true, position: 'right', distance: 8, fontSize: 10, color: '#dfe8ea',
        formatter: p => (delayedJobs[p.dataIndex] + failedJobs[p.dataIndex]).toFixed(1),
      },
    },
  ],
});

// ---- delay trend ----
const trendBox = { x: 1792, y: 1117, w: 758, h: 317 };
addPanel(trendBox);
const trendLastDay = trendTickDays.slice(-1);
const dayLabel = v => trendTickLabels[trendTickDays.indexOf(v)];
chart(trendBox, {
  title: titleAt(trendBox, 'Delay Trend', 2189, 1141),
  legend: legendAt(trendBox, ['delay_min'], ['#5a5aa8'], 2135, 1417.6),
  grid: rect(trendBox, 1862.7, 1167.4, 2543.8, 1369.3),
  xAxis: [
    {
      type: 'value', position: 'bottom', min: trendDays[0], max: trendDays[trendDays.length - 1],
      axisLine: lineCyan,
      axisTick: Object.assign({}, tickMark, { customValues: trendTickDays }),
      axisLabel: Object.assign({}, labelStyle, { customValues: trendTickDays.slice(0, -1), margin: 12, formatter: dayLabel }),
      splitLine: gridLine,
    },
    {
      // the last label sits against the edge and would knock out its neighbour on the same axis
      type: 'value', position: 'bottom', min: trendDays[0], max: trendDays[trendDays.length - 1],
      axisLine: { show: false }, axisTick: { show: false }, splitLine: { show: false },
      axisLabel: Object.assign({}, labelStyle, { customValues: trendLastDay, margin: 12, align: 'right', padding: [0, -8, 0, 0], formatter: dayLabel }),
    },
  ],
  yAxis: tickedAxis(3.04, 6.25, [4, 5, 6], 2, { name: 'Delay in Minutes', nameGap: 40, axisTick: { show: false } }),
  series: [{
    type: 'line', name: 'delay_min', symbol: 'none',
    data: trendDays.map((d, i) => [d, trendDelay[i]]),
    lineStyle: { color: 'rgba(150,150,175,0.9)', width: 2 },
    areaStyle: { opacity: 1, color: new echarts.graphic.LinearGradient(0, 0, 0, 1, [
      { offset: 0, color: '#30a8f5' }, { offset: 1, color: '#6fd47f' },
    ]) },
  }],
});
</script>
</body>
</html>
